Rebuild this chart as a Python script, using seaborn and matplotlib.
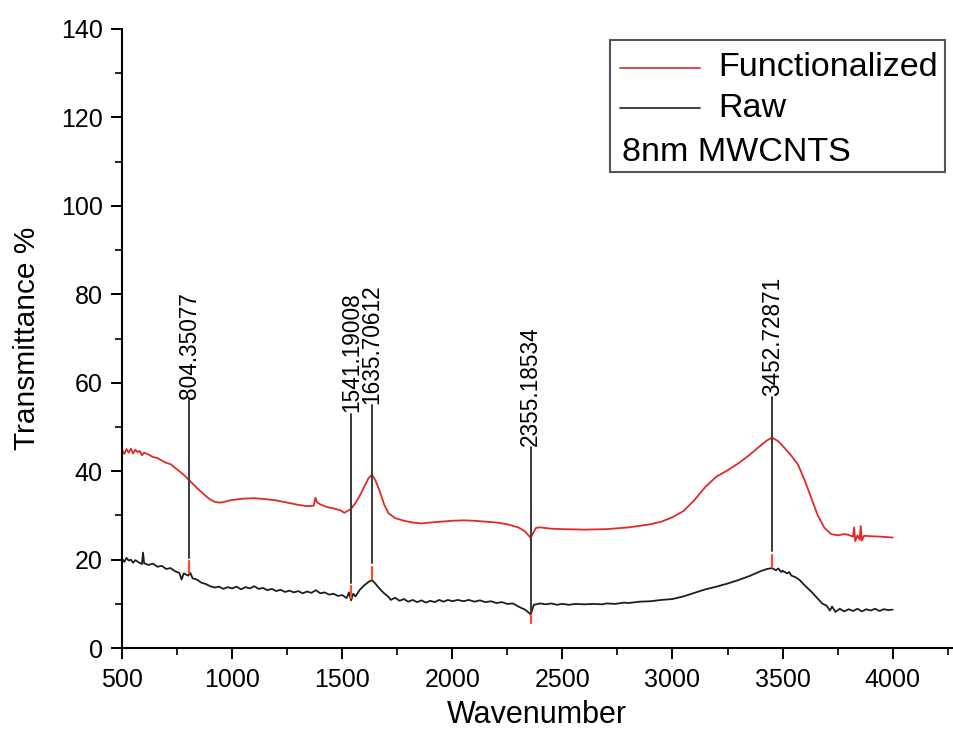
import numpy as np
import pandas as pd
import matplotlib
matplotlib.use("Agg")
import matplotlib.pyplot as plt
from matplotlib.lines import Line2D
from matplotlib.patches import Rectangle
import seaborn as sns

# ---------------- data ----------------
func_wn = [500, 510, 520, 530, 540, 550, 560, 570, 580, 590, 600, 620, 640, 660, 680, 700,
           720, 740, 760, 780, 800, 820, 840, 860, 880, 900, 920, 940, 960, 980, 1000, 1050,
           1100, 1150, 1200, 1250, 1300, 1340, 1370, 1378, 1385, 1400, 1430, 1460, 1490, 1510,
           1520, 1540, 1560, 1580, 1600, 1620, 1635, 1650, 1670, 1690, 1710, 1740, 1780, 1820,
           1860, 1900, 1950, 2000, 2050, 2100, 2150, 2200, 2250, 2300, 2330, 2355, 2365, 2380,
           2400, 2450, 2500, 2600, 2700, 2800, 2900, 2950, 3000, 3050, 3100, 3150, 3200, 3250,
           3300, 3350, 3400, 3430, 3452, 3480, 3510, 3540, 3570, 3600, 3630, 3660, 3690, 3720,
           3750, 3780, 3800, 3820, 3825, 3830, 3840, 3850, 3855, 3860, 3870, 3900, 3950, 4000]
func_t = [44.8, 43.9, 45.0, 44.2, 45.1, 44.0, 44.9, 44.3, 44.6, 43.6, 44.2, 43.8, 43.2, 43.0, 42.4, 41.9,
          41.6, 40.8, 40.0, 39.2, 38.2, 37.2, 36.2, 35.3, 34.4, 33.6, 33.1, 32.9, 33.0, 33.3, 33.5, 33.8,
          33.9, 33.7, 33.4, 32.9, 32.4, 32.1, 32.2, 34.0, 33.0, 32.5, 31.9, 31.6, 31.2, 30.6,
          30.9, 31.5, 32.8, 34.5, 36.5, 38.5, 39.2, 38.0, 35.5, 32.5, 30.5, 29.4, 28.8, 28.4,
          28.2, 28.4, 28.6, 28.8, 28.9, 28.8, 28.6, 28.4, 28.0, 27.3, 26.4, 25.0, 25.8, 27.2,
          27.3, 27.0, 26.9, 26.8, 26.9, 27.3, 28.0, 28.6, 29.6, 31.0, 33.5, 36.5, 38.8, 40.2,
          41.8, 43.7, 45.8, 47.0, 47.6, 46.8, 45.2, 43.5, 41.5, 38.0, 34.0, 30.0, 27.2, 25.8,
          25.5, 25.8, 25.6, 25.2, 27.3, 24.2, 25.5, 24.5, 27.6, 24.3, 25.4, 25.3, 25.2, 25.0]

raw_wn = [500, 510, 520, 530, 540, 550, 560, 575, 590, 595, 600, 620, 640, 660, 680, 700,
          720, 740, 760, 770, 780, 800, 810, 820, 840, 860, 880, 900, 920, 940, 960, 980,
          1000, 1020, 1040, 1060, 1080, 1100, 1120, 1140, 1160, 1180, 1200, 1220, 1240, 1260,
          1280, 1300, 1320, 1340, 1360, 1380, 1400, 1420, 1440, 1460, 1480, 1500, 1520, 1530,
          1540, 1550, 1560, 1580, 1600, 1620, 1635, 1650, 1670, 1690, 1710, 1720, 1740, 1760,
          1780, 1800, 1820, 1840, 1860, 1880, 1900, 1920, 1940, 1960, 1980, 2000, 2025, 2050,
          2075, 2100, 2125, 2150, 2175, 2200, 2225, 2250, 2275, 2300, 2330, 2350, 2355, 2360,
          2370, 2400, 2425, 2450, 2475, 2500, 2530, 2560, 2600, 2640, 2680, 2700, 2740, 2780,
          2800, 2850, 2900, 2950, 3000, 3050, 3100, 3150, 3200, 3250, 3300, 3350, 3400, 3430,
          3452, 3470, 3480, 3495, 3500, 3520, 3530, 3540, 3560, 3580, 3600, 3630, 3660, 3680,
          3700, 3715, 3725, 3740, 3760, 3780, 3800, 3820, 3840, 3860, 3880, 3900, 3920, 3940,
          3960, 3980, 4000]
raw_t = [20.2, 19.5, 20.4, 19.8, 20.0, 19.3, 19.9, 19.4, 19.0, 21.6, 19.2, 18.8, 19.1, 18.4, 18.6, 17.9,
         18.1, 17.4, 17.0, 15.5, 16.9, 16.4, 17.0, 15.8, 15.5, 14.8, 14.5, 14.0, 13.7, 13.9, 13.4, 13.8,
         13.5, 13.9, 13.3, 13.8, 13.5, 14.0, 13.4, 13.6, 13.1, 13.4, 12.9, 13.2, 12.7, 13.0,
         12.6, 12.9, 12.4, 12.8, 12.5, 13.1, 12.4, 12.6, 12.1, 12.3, 11.8, 12.0, 11.3, 12.6,
         10.8, 12.3, 11.7, 13.2, 14.2, 15.0, 15.4, 14.6, 13.4, 12.4, 11.6, 10.9, 11.4, 10.7,
         11.1, 10.5, 10.9, 10.4, 10.8, 10.3, 10.7, 10.4, 10.9, 10.5, 10.9, 10.6, 10.9, 10.6,
         10.9, 10.5, 10.8, 10.4, 10.6, 10.2, 10.4, 10.0, 10.1, 9.4, 8.7, 7.9, 7.6, 8.2,
         9.8, 10.1, 9.9, 10.1, 9.8, 10.0, 9.8, 10.0, 9.9, 10.0, 9.9, 10.1, 10.0, 10.3,
         10.2, 10.5, 10.6, 10.9, 11.1, 11.7, 12.5, 13.3, 13.9, 14.6, 15.4, 16.3, 17.4, 17.9,
         18.1, 17.6, 18.0, 17.2, 17.5, 16.9, 17.2, 16.4, 16.0, 15.3, 14.2, 12.8, 11.2, 10.1,
         9.6, 8.5, 9.4, 8.2, 8.9, 8.3, 8.8, 8.4, 8.9, 8.3, 8.8, 8.5, 8.9, 8.4,
         8.8, 8.6, 8.7]

peak_wn = [804.35077, 1541.19008, 1635.70612, 2355.18534, 3452.72871]
peak_labels = ["804.35077", "1541.19008", "1635.70612", "2355.18534", "3452.72871"]
peak_is_dip = [False, False, False, True, False]

series_names = ["Functionalized", "Raw"]
series_colors = ["#e02a2a", "#1e1e1e"]
note_text = "8nm MWCNTS"

# ---------------- layout ----------------
label_base = [56.0, 53.0, 55.0, 45.5, 56.8]   # bottom of each rotated peak label

df = pd.concat([
    pd.DataFrame({"Wavenumber": func_wn, "Transmittance": func_t, "Sample": series_names[0]}),
    pd.DataFrame({"Wavenumber": raw_wn, "Transmittance": raw_t, "Sample": series_names[1]}),
], ignore_index=True)

sns.set_theme(style="ticks")
plt.rcParams["font.family"] = ["Liberation Sans", "DejaVu Sans"]
plt.rcParams["text.color"] = "black"
plt.rcParams["axes.labelcolor"] = "black"
plt.rcParams["xtick.color"] = "black"
plt.rcParams["ytick.color"] = "black"

fig = plt.figure(figsize=(9.54, 7.34), dpi=100)
ax = fig.add_axes([0.128, 0.117, 0.870, 0.8435])

sns.lineplot(data=df, x="Wavenumber", y="Transmittance", hue="Sample",
             palette=dict(zip(series_names, series_colors)), estimator=None,
             sort=False, legend=False, linewidth=1.3, ax=ax)

# peak markers on the raw spectrum
for wn, lab, dip, top in zip(peak_wn, peak_labels, peak_is_dip, label_base):
    yv = float(np.interp(wn, raw_wn, raw_t))
    if dip:
        ax.plot([wn, wn], [yv, top], color="#3a3a3a", lw=1.4, zorder=3)
        ax.plot([wn, wn], [yv - 2.0, yv - 0.2], color="#ff4a2a", lw=1.6, zorder=4)
    else:
        ax.plot([wn, wn], [yv + 3.8, top], color="#3a3a3a", lw=1.4, zorder=3)
        ax.plot([wn, wn], [yv + 0.3, yv + 3.0], color="#ff4a2a", lw=1.6, zorder=4)
    ax.text(wn, top + 0.3, lab, rotation=90, ha="center", va="bottom",
            fontsize=16.3, color="black")

ax.set_xlim(500, 4270)
ax.set_ylim(0, 140)
ax.set_xticks(np.arange(500, 4001, 500))
ax.set_xticks(np.arange(750, 4251, 500), minor=True)
ax.set_yticks(np.arange(0, 141, 20))
ax.set_yticks(np.arange(10, 131, 20), minor=True)
ax.tick_params(axis="both", which="major", direction="out", length=8, width=1.4,
               labelsize=18, colors="black", pad=6)
ax.tick_params(axis="both", which="minor", direction="out", length=5, width=1.2, colors="black")
for s in ["top", "right"]:
    ax.spines[s].set_visible(False)
for s in ["left", "bottom"]:
    ax.spines[s].set_linewidth(1.5)
    ax.spines[s].set_color("black")

ax.set_xlabel("Wavenumber", fontsize=22, labelpad=6, color="black")
ax.set_ylabel("Transmittance %", fontsize=21.5, labelpad=14, color="black")

# legend box drawn in axes coordinates
box = Rectangle((0.588, 0.769), 0.4036, 0.213, transform=ax.transAxes,
                facecolor="white", edgecolor="#555555", lw=1.5, zorder=5)
ax.add_patch(box)
for yy, name, col in zip([0.937, 0.872], series_names, series_colors):
    ax.add_line(Line2D([0.600, 0.696], [yy, yy], transform=ax.transAxes,
                       color=col, lw=1.2, zorder=6))
    ax.text(0.718, yy, name, transform=ax.transAxes, fontsize=24.5,
            va="center", ha="left", zorder=6, color="black")
ax.text(0.6024, 0.801, note_text, transform=ax.transAxes, fontsize=24.5,
        va="center", ha="left", zorder=6, color="black")

fig.savefig("out.png", dpi=100)
